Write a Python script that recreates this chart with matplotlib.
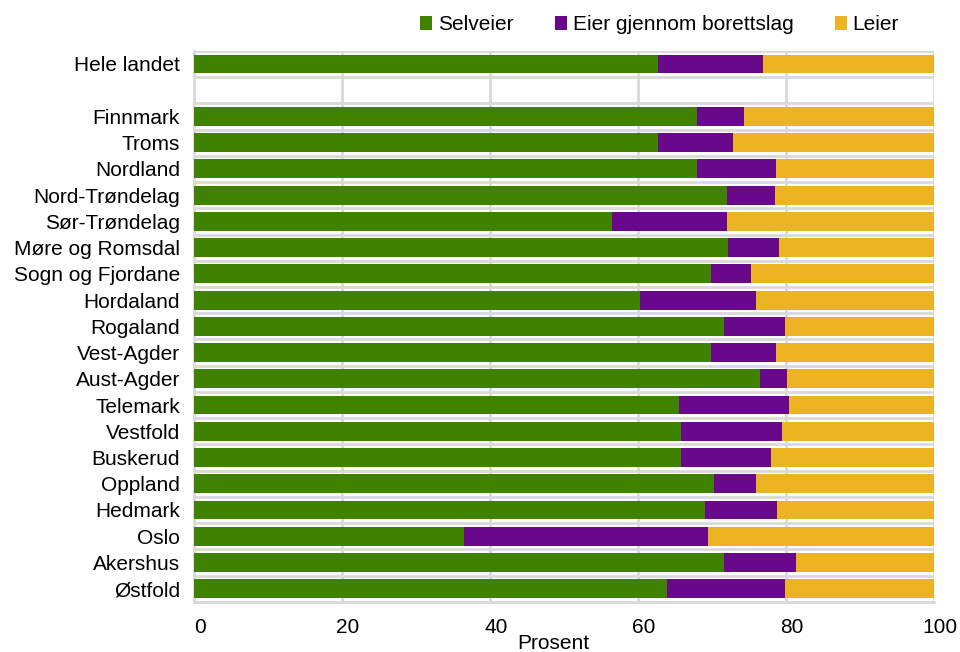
import numpy as np
import matplotlib
matplotlib.use("Agg")
import matplotlib.pyplot as plt
import matplotlib.transforms as mtransforms

plt.rcParams['font.family'] = ['Liberation Sans', 'DejaVu Sans']

# top to bottom; '' is the empty spacer row
regions = ['Hele landet', '', 'Finnmark', 'Troms', 'Nordland', 'Nord-Trøndelag',
           'Sør-Trøndelag', 'Møre og Romsdal', 'Sogn og Fjordane', 'Hordaland',
           'Rogaland', 'Vest-Agder', 'Aust-Agder', 'Telemark', 'Vestfold',
           'Buskerud', 'Oppland', 'Hedmark', 'Oslo', 'Akershus', 'Østfold']
selveier = [62.7, 0, 68.0, 62.7, 68.0, 72.0, 56.5, 72.1, 69.9, 60.3, 71.6,
            69.9, 76.5, 65.5, 65.8, 65.8, 70.2, 69.1, 36.5, 71.6, 63.9]
borettslag = [14.2, 0, 6.3, 10.2, 10.7, 6.5, 15.5, 7.0, 5.3, 15.6, 8.3,
              8.7, 3.6, 14.9, 13.7, 12.1, 5.8, 9.7, 33.0, 9.8, 16.0]
leier = [23.1, 0, 25.7, 27.1, 21.3, 21.5, 28.0, 20.9, 24.8, 24.1, 20.1,
         21.4, 19.9, 19.6, 20.5, 22.1, 24.0, 21.2, 30.5, 18.6, 20.1]

c_green = '#3f8200'
c_purple = '#69088a'
c_yellow = '#ecb322'
grid_c = '#d9d9d9'
fs = 15

fig = plt.figure(figsize=(9.6, 6.52), dpi=100)
ax = fig.add_axes([0.202, 0.077, 0.771, 0.845])

n = len(regions)
y = np.arange(n)[::-1]
sv = np.array(selveier)
bl = np.array(borettslag)
le = np.array(leier)
h = 0.72
ax.barh(y, sv, height=h, color=c_green, label='Selveier', zorder=3)
ax.barh(y, bl, left=sv, height=h, color=c_purple, label='Eier gjennom borettslag', zorder=3)
ax.barh(y, le, left=sv + bl, height=h, color=c_yellow, label='Leier', zorder=3)

ax.set_xlim(0, 100)
ax.set_ylim(-0.5, n - 0.5)
ax.set_yticks(y)
ax.set_yticklabels(regions, fontsize=fs)
ax.set_xticks(np.arange(0, 101, 20))
ax.tick_params(axis='x', labelsize=fs, length=0, pad=12)
ax.tick_params(axis='y', length=0, pad=10)
# x tick labels sit a little right of their gridlines
shift = mtransforms.ScaledTranslation(0.06, 0, fig.dpi_scale_trans)
for lab in ax.get_xticklabels():
    lab.set_transform(lab.get_transform() + shift)

for v in np.arange(20, 101, 20):
    ax.axvline(v, color=grid_c, lw=2, zorder=1)
for yy in np.arange(-0.5, n, 1.0):
    ax.axhline(yy, color=grid_c, lw=2, zorder=1)
for s in ['top', 'right']:
    ax.spines[s].set_visible(False)
ax.spines['left'].set_color(grid_c)
ax.spines['left'].set_linewidth(2)
ax.spines['bottom'].set_color(grid_c)
ax.spines['bottom'].set_linewidth(2)

ax.set_xlabel('Prosent', fontsize=fs)
ax.xaxis.set_label_coords(0.485, -0.058)

fig.legend(loc='upper center', bbox_to_anchor=(0.687, 1.005), ncol=3, frameon=False,
           fontsize=fs, handlelength=0.6, handleheight=0.7, handletextpad=0.25,
           columnspacing=2.0)

fig.savefig('out.png', dpi=100)
